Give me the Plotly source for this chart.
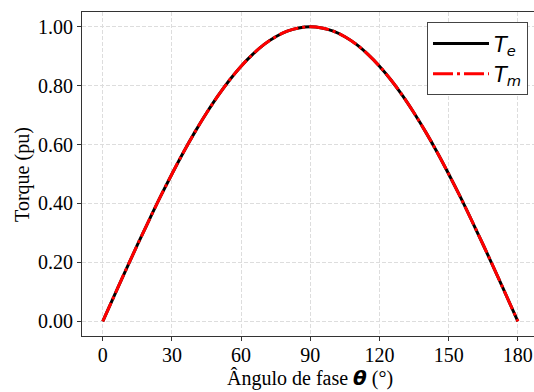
import plotly.graph_objects as go

theta = [0, 5, 10, 15, 20, 25, 30, 35, 40, 45, 50, 55, 60, 65, 70, 75, 80, 85, 90,
         95, 100, 105, 110, 115, 120, 125, 130, 135, 140, 145, 150, 155, 160, 165, 170, 175, 180]
te = [0.000, 0.087, 0.174, 0.259, 0.342, 0.423, 0.500, 0.574, 0.643, 0.707, 0.766, 0.819,
      0.866, 0.906, 0.940, 0.966, 0.985, 0.996, 1.000, 0.996, 0.985, 0.966, 0.940, 0.906,
      0.866, 0.819, 0.766, 0.707, 0.643, 0.574, 0.500, 0.423, 0.342, 0.259, 0.174, 0.087, 0.000]
tm = [0.000, 0.087, 0.174, 0.259, 0.342, 0.423, 0.500, 0.574, 0.643, 0.707, 0.766, 0.819,
      0.866, 0.906, 0.940, 0.966, 0.985, 0.996, 1.000, 0.996, 0.985, 0.966, 0.940, 0.906,
      0.866, 0.819, 0.766, 0.707, 0.643, 0.574, 0.500, 0.423, 0.342, 0.259, 0.174, 0.087, 0.000]
xticks = [0, 30, 60, 90, 120, 150, 180]
yticks = [0.0, 0.2, 0.4, 0.6, 0.8, 1.0]
ytick_labels = ["0.00", "0.20", "0.40", "0.60", "0.80", "1.00"]

SERIF = "Liberation Serif, DejaVu Serif, serif"
SANS = "DejaVu Sans"

fig = go.Figure()
fig.add_trace(go.Scatter(
    x=theta, y=te, mode="lines", line=dict(color="black", width=3, shape="spline"),
    name="<i>T</i><sub><i>e</i></sub>"))
fig.add_trace(go.Scatter(
    x=theta, y=tm, mode="lines", line=dict(color="red", width=3, dash="20px,4px,3px,4px", shape="spline"),
    name="<i>T</i><sub><i>m</i></sub>"))

axis_common = dict(
    showgrid=True, gridcolor="#dddddd", griddash="4px,2px", gridwidth=1,
    showline=True, linecolor="#333333", linewidth=1.2,
    ticks="outside", ticklen=4, tickcolor="#333333", tickwidth=1,
    zeroline=False,
    tickfont=dict(family=SERIF, size=20, color="black"),
)

fig.update_layout(
    width=534, height=392,
    margin=dict(l=82, r=0, t=12, b=56, autoexpand=False),
    paper_bgcolor="white", plot_bgcolor="white",
    showlegend=True,
    legend=dict(
        x=0.9867, y=0.968, xanchor="right", yanchor="top",
        bgcolor="white", bordercolor="#444444", borderwidth=1,
        font=dict(family=SANS, size=21, color="black"),
        tracegroupgap=0, itemwidth=56,
    ),
    xaxis=dict(range=[-9, 187], tickvals=xticks, mirror=True, ticklabelstandoff=-3, **axis_common),
    yaxis=dict(range=[-0.05, 1.05], tickvals=yticks, ticktext=ytick_labels, **axis_common),
    annotations=[
        dict(text=f"Ângulo de fase <span style='font-family:{SANS}'><b><i>θ</i></b></span> (°)",
             xref="paper", yref="paper", x=0.504, y=-0.13, xanchor="center", yanchor="middle",
             showarrow=False, font=dict(family=SERIF, size=20, color="black")),
        dict(text="Torque (pu)", textangle=-90,
             xref="paper", yref="paper", x=-0.133, y=0.5, xanchor="center", yanchor="middle",
             showarrow=False, font=dict(family=SERIF, size=20, color="black")),
    ],
)

fig.write_html("out.html", config={"displayModeBar": False},
               post_script="document.body.style.margin='0';document.body.style.overflow='hidden';")
